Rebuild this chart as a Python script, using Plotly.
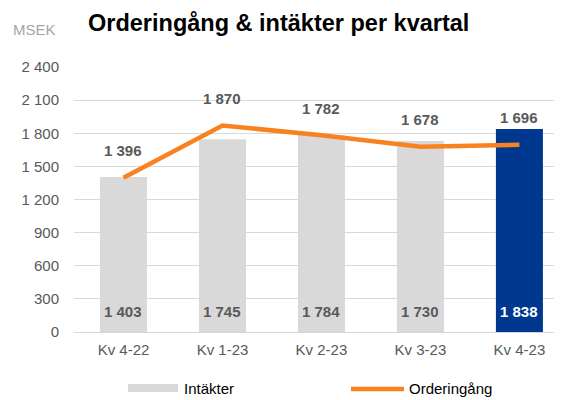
import plotly.graph_objects as go

categories = ["Kv 4-22", "Kv 1-23", "Kv 2-23", "Kv 3-23", "Kv 4-23"]
intakter = [1403, 1745, 1784, 1730, 1838]
orderingang = [1396, 1870, 1782, 1678, 1696]
y_ticks = [0, 300, 600, 900, 1200, 1500, 1800, 2100, 2400]

def fmt(v):
    return f"{v:,}".replace(",", " ")

FONT = "Liberation Sans, Arial, sans-serif"
GRAY_TXT = "#595959"
bar_colors = ["#d9d9d9"] * (len(categories) - 1) + ["#00388f"]
bar_txt_colors = [GRAY_TXT] * (len(categories) - 1) + ["#ffffff"]

# page body has an 8px margin; work in screen pixels and subtract it
OFF = 8
W, H = 562 - OFF, 400 - OFF
ML, MT = 74 - OFF, 67 - OFF
pw, ph = 560 - 74, 332 - 67
MR = W - ML - pw
MB = H - MT - ph

def px2paper(px, py):
    return (px - OFF - ML) / pw, 1 - (py - OFF - MT) / ph

fig = go.Figure()
fig.add_trace(go.Bar(
    x=list(range(len(categories))), y=intakter, name="Intäkter",
    marker=dict(color=bar_colors, line=dict(width=0)),
    width=0.475, showlegend=False, hoverinfo="skip",
))
fig.add_trace(go.Scatter(
    x=list(range(len(categories))), y=orderingang, name="Orderingång",
    mode="lines", line=dict(color="#f7821f", width=4.5),
    showlegend=False, hoverinfo="skip",
))

annotations = []
for i, v in enumerate(intakter):
    annotations.append(dict(
        x=i, y=0, xref="x", yref="y", text=f"<b>{fmt(v)}</b>", showarrow=False,
        yshift=21, font=dict(family=FONT, size=15, color=bar_txt_colors[i]),
    ))
for i, v in enumerate(orderingang):
    annotations.append(dict(
        x=i, y=v, xref="x", yref="y", text=f"<b>{fmt(v)}</b>", showarrow=False,
        yshift=27, font=dict(family=FONT, size=15, color=GRAY_TXT),
    ))

def page_text(px, py, text, size, color, xanchor="center"):
    x, y = px2paper(px, py)
    return dict(x=x, y=y, xref="paper", yref="paper", text=text, showarrow=False,
                xanchor=xanchor, yanchor="middle",
                font=dict(family=FONT, size=size, color=color))

annotations.append(page_text(278, 23, "<b>Orderingång & intäkter per kvartal</b>", 23.5, "#000000"))
annotations.append(page_text(11, 29, "MSEK", 15, "#a6a6a6", xanchor="left"))
annotations.append(page_text(182, 388, "Intäkter", 15, "#000000", xanchor="left"))
annotations.append(page_text(407, 388, "Orderingång", 15, "#000000", xanchor="left"))

x0, y0 = px2paper(128, 384)
x1, y1 = px2paper(178, 392)
shapes = [
    dict(type="rect", xref="paper", yref="paper", x0=x0, y0=y0, x1=x1, y1=y1,
         fillcolor="#d9d9d9", line=dict(width=0)),
]
lx0, ly = px2paper(351, 389)
lx1, _ = px2paper(404, 389)
shapes.append(dict(type="line", xref="paper", yref="paper", x0=lx0, x1=lx1, y0=ly, y1=ly,
                   line=dict(color="#f7821f", width=4.5)))

fig.update_layout(
    width=W, height=H,
    margin=dict(l=ML, r=MR, t=MT, b=MB, autoexpand=False),
    paper_bgcolor="white", plot_bgcolor="white",
    annotations=annotations, shapes=shapes,
    showlegend=False,
    xaxis=dict(
        tickmode="array", tickvals=list(range(len(categories))), ticktext=categories,
        range=[-0.5, 4.41], showgrid=False, zeroline=False, showline=True,
        linecolor="#d9d9d9", linewidth=1, ticks="", ticklabelstandoff=4,
        tickfont=dict(family=FONT, size=15, color=GRAY_TXT),
    ),
    yaxis=dict(
        range=[0, 2400], tickmode="array", tickvals=y_ticks,
        ticktext=[fmt(v) for v in y_ticks],
        showgrid=True, gridcolor="#d9d9d9", gridwidth=1, zeroline=False,
        ticks="", ticklabelstandoff=14,
        tickfont=dict(family=FONT, size=15, color=GRAY_TXT),
    ),
    font=dict(family=FONT),
)

fig.write_html("out.html")
